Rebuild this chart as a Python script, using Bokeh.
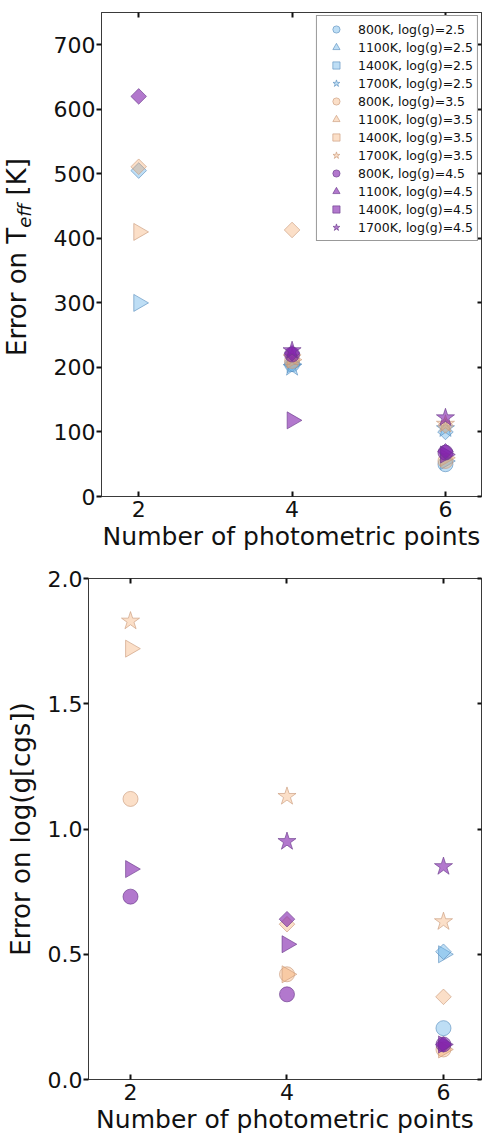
import math
from bokeh.plotting import figure
from bokeh.models import Range1d, Legend, LegendItem, LinearAxis, FixedTicker, Div, PrintfTickFormatter
from bokeh.layouts import column, row
from bokeh.embed import file_html
from bokeh.resources import INLINE

nan = float("nan")

# ---------------- data ----------------
n_points = [2, 4, 6]
x_ticks = [2, 4, 6]
teff_ticks = [0, 100, 200, 300, 400, 500, 600, 700]
logg_ticks = [0.0, 0.5, 1.0, 1.5, 2.0]

# Error on Teff [K]
teff_800_g25 = [nan, 205, 50]
teff_1100_g25 = [300, 205, 55]
teff_1400_g25 = [505, 205, 100]
teff_1700_g25 = [nan, 200, 105]
teff_800_g35 = [nan, 210, 55]
teff_1100_g35 = [410, 212, 60]
teff_1400_g35 = [511, 413, 110]
teff_1700_g35 = [nan, 215, 112]
teff_800_g45 = [nan, 220, 68]
teff_1100_g45 = [nan, 118, 65]
teff_1400_g45 = [620, 222, 70]
teff_1700_g45 = [nan, 226, 122]

# Error on log(g)
logg_800_g25 = [nan, nan, 0.205]
logg_1100_g25 = [nan, nan, 0.50]
logg_1400_g25 = [nan, nan, 0.51]
logg_1700_g25 = [nan, nan, nan]
logg_800_g35 = [1.12, 0.42, 0.12]
logg_1100_g35 = [1.72, 0.42, 0.12]
logg_1400_g35 = [nan, 0.62, 0.33]
logg_1700_g35 = [1.83, 1.13, 0.63]
logg_800_g45 = [0.73, 0.34, 0.14]
logg_1100_g45 = [0.84, 0.54, 0.14]
logg_1400_g45 = [nan, 0.64, 0.14]
logg_1700_g45 = [nan, 0.95, 0.85]

temperatures = ["800K", "1100K", "1400K", "1700K"]
gravities = ["2.5", "3.5", "4.5"]

teff_series = [
    teff_800_g25, teff_1100_g25, teff_1400_g25, teff_1700_g25,
    teff_800_g35, teff_1100_g35, teff_1400_g35, teff_1700_g35,
    teff_800_g45, teff_1100_g45, teff_1400_g45, teff_1700_g45,
]
logg_series = [
    logg_800_g25, logg_1100_g25, logg_1400_g25, logg_1700_g25,
    logg_800_g35, logg_1100_g35, logg_1400_g35, logg_1700_g35,
    logg_800_g45, logg_1100_g45, logg_1400_g45, logg_1700_g45,
]

# ---------------- styles ----------------
FILL = {"2.5": "#6fb6e9", "3.5": "#f4a460", "4.5": "#7f1eac"}
ALPHA = {"2.5": 0.45, "3.5": 0.35, "4.5": 0.6}
EDGE = {"2.5": "#5b8fbf", "3.5": "#c99a7a", "4.5": "#6a3a8a"}
MARKER = {
    "800K": dict(marker="circle", size=15, angle=0.0),
    "1100K": dict(marker="triangle", size=17, angle=-math.pi / 2),
    "1400K": dict(marker="square", size=11, angle=math.pi / 4),
    "1700K": dict(marker="star", size=19, angle=0.0),
}
FONT = "DejaVu Sans"
AX = "#3a3a3a"
TXT = "#111111"


def style(p, xlabel):
    p.outline_line_color = AX
    p.outline_line_width = 1
    p.grid.visible = False
    p.background_fill_color = "white"
    p.border_fill_color = "white"
    for ax in p.xaxis:
        ax.ticker = FixedTicker(ticks=x_ticks)
        ax.major_tick_in = 5
        ax.major_tick_out = 0
        ax.minor_tick_line_color = None
        ax.major_label_text_font = FONT
        ax.major_label_text_font_size = "22px"
        ax.major_label_text_color = TXT
        ax.major_label_standoff = 4
        ax.axis_line_color = AX
        ax.major_tick_line_color = TXT
        ax.major_tick_line_width = 2
        ax.axis_label = xlabel
        ax.axis_label_text_font = FONT
        ax.axis_label_text_font_style = "normal"
        ax.axis_label_text_font_size = "25px"
        ax.axis_label_text_color = TXT
        ax.axis_label_standoff = 2
    for ax in p.yaxis:
        ax.major_tick_in = 0
        ax.major_tick_out = 5
        ax.minor_tick_line_color = None
        ax.major_label_text_font = FONT
        ax.major_label_text_font_size = "22px"
        ax.major_label_text_color = TXT
        ax.major_label_standoff = 1
        ax.axis_line_color = AX
        ax.major_tick_line_color = TXT
        ax.major_tick_line_width = 2


def add_frame_axes(p, yticks):
    top = LinearAxis(ticker=FixedTicker(ticks=x_ticks), major_tick_in=5, major_tick_out=0,
                     minor_tick_line_color=None, major_label_text_font_size="0px",
                     major_label_text_color=None, major_label_standoff=0,
                     axis_line_color=AX, major_tick_line_color=TXT, major_tick_line_width=2)
    right = LinearAxis(ticker=FixedTicker(ticks=yticks), major_tick_in=4, major_tick_out=0,
                       minor_tick_line_color=None, major_label_text_font_size="0px",
                       major_label_text_color=None, major_label_standoff=0,
                       axis_line_color=AX, major_tick_line_color=TXT, major_tick_line_width=2)
    p.add_layout(top, "above")
    p.add_layout(right, "right")


def draw(p, series):
    renderers = []
    k = 0
    for g in gravities:
        for t in temperatures:
            m = MARKER[t]
            r = p.scatter(x=n_points, y=series[k], marker=m["marker"], size=m["size"],
                          angle=m["angle"], fill_color=FILL[g], fill_alpha=ALPHA[g],
                          line_color=EDGE[g], line_alpha=0.8, line_width=0.8)
            renderers.append((f"{t}, log(g)={g}", r))
            k += 1
    return renderers


# ---------------- top panel ----------------
LABEL_W = 40
p1 = figure(width=484 - LABEL_W, height=560, x_range=Range1d(1.515, 6.47), y_range=Range1d(0, 750),
            output_backend="svg", toolbar_location=None,
            min_border_left=101 - LABEL_W, min_border_right=3, min_border_top=12, min_border_bottom=64)
style(p1, "Number of photometric points")
p1.yaxis.ticker = FixedTicker(ticks=teff_ticks)
add_frame_axes(p1, teff_ticks)
rs = draw(p1, teff_series)

legend = Legend(items=[LegendItem(label=lab, renderers=[r]) for lab, r in rs],
                location="top_right", glyph_height=18, glyph_width=30, label_height=18,
                spacing=0, padding=4, margin=3, label_standoff=7,
                label_text_font=FONT, label_text_font_size="12.5px", label_text_color=TXT,
                border_line_color="#333333", border_line_width=1, background_fill_alpha=1.0)
p1.add_layout(legend, "center")

# y label of the top panel with a subscript (rotated HTML text)
ylabel_html = (
    '<div style="display:block; width:max-content; white-space:nowrap; '
    'transform-origin:0 0; transform:translate(4px, 356px) rotate(-90deg); '
    "font-family:'DejaVu Sans'; font-size:26px; line-height:26px; color:#111111; margin:0; padding:0;\">"
    'Error on T<sub style="font-style:italic; font-size:18px; vertical-align:-5px; line-height:0;">eff</sub> [K]'
    '</div>'
)
ylabel_div = Div(text=ylabel_html, width=LABEL_W, height=560, margin=0)

# ---------------- bottom panel ----------------
p2 = figure(width=484, height=576, x_range=Range1d(1.463, 6.486), y_range=Range1d(0.0, 2.0),
            output_backend="svg", toolbar_location=None,
            min_border_left=88, min_border_right=3, min_border_top=18, min_border_bottom=20)
style(p2, "Number of photometric points")
p2.yaxis.ticker = FixedTicker(ticks=logg_ticks)
p2.yaxis.formatter = PrintfTickFormatter(format="%.1f")
p2.yaxis.axis_label = "Error on log(g[cgs])"
p2.yaxis.axis_label_text_font = FONT
p2.yaxis.axis_label_text_font_style = "normal"
p2.yaxis.axis_label_text_font_size = "26px"
p2.yaxis.axis_label_text_color = TXT
p2.yaxis.axis_label_standoff = 9
add_frame_axes(p2, logg_ticks)
draw(p2, logg_series)

layout = column(row(ylabel_div, p1, spacing=0), p2, spacing=0)
open("out.html", "w").write(file_html(layout, INLINE))
